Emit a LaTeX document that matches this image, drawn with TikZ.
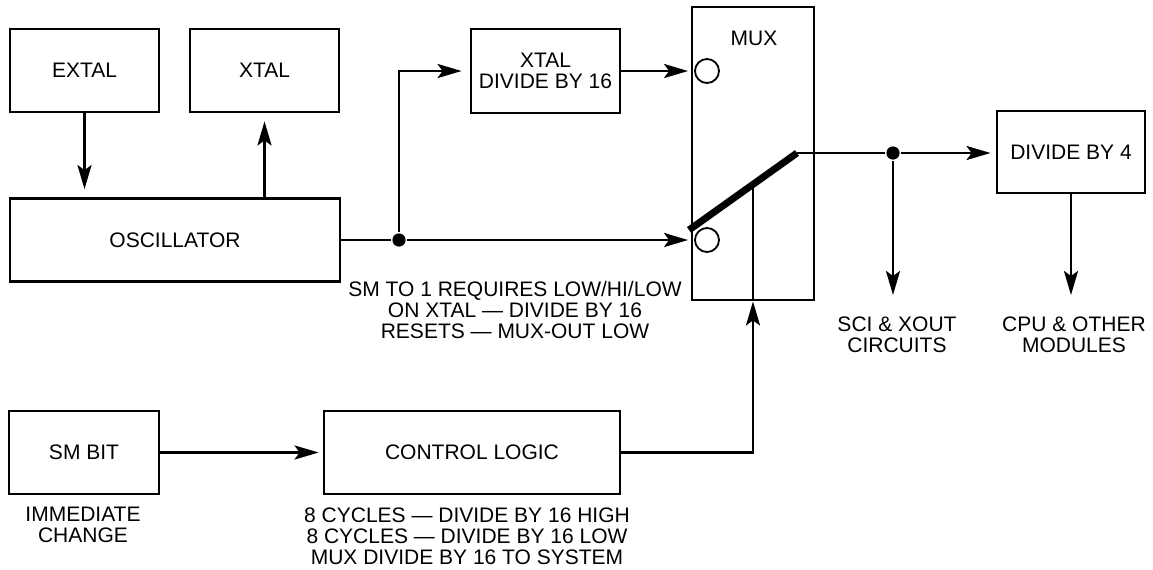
\documentclass[tikz,border=0pt]{standalone}
\usepackage{fontspec}
\setmainfont{Liberation Sans}
\usetikzlibrary{arrows.meta}

\begin{document}
\begin{tikzpicture}[
  x=0.5pt, y=-0.5pt,
  line width=1.4pt,
  font=\fontsize{10.5}{10.4}\selectfont,
  box/.style={draw, minimum width=74.5pt, minimum height=41.5pt, align=center, inner sep=0pt},
  note/.style={align=center, inner sep=0pt},
  arr/.style={-{Stealth[length=12pt, width=7pt, inset=2.5pt]}, shorten >=2.5pt},
  pincircle/.style={draw, circle, minimum size=12pt, inner sep=0pt, line width=0.9pt},
  dot/.style={fill, circle, minimum size=6.6pt, inner sep=0pt},
  swbar/.style={line width=3.5pt, line cap=butt}
]
\useasboundingbox (0,0) rectangle (1153,569);
\node[box] (extal) at (84.5,70.5) {EXTAL};
\node[box] (xtal) at (264.5,70.5) {XTAL};
\node[box, minimum width=165pt] (osc) at (175,240) {OSCILLATOR};
\node[box, minimum height=42pt] (xdiv) at (545.5,71) {XTAL\\DIVIDE BY 16};
\node[box, minimum width=61pt, minimum height=146.5pt] (mux) at (753,153.5) {};
\node[note] (muxlabel) at (754,38) {MUX};
\node[box, minimum width=74pt, minimum height=41pt] (div4) at (1071,152) {DIVIDE BY 4};
\node[box, minimum width=75pt] (smbit) at (84,452.5) {SM BIT};
\node[box, minimum width=148pt] (ctrl) at (472,452.5) {CONTROL LOGIC};
\node[pincircle] (in1) at (707,71) {};
\node[pincircle] (in2) at (707,240) {};
\node[dot] (j1) at (399,240) {};
\node[dot] (j2) at (893,153) {};
\coordinate (swA) at (689,230);
\coordinate (swB) at (797,153);
\coordinate (swC) at (753,186);
\coordinate (sciin) at (893,300);
\coordinate (cpuin) at (1071,300);
\node[note] (resetnote) at (515,310) {SM TO 1 REQUIRES LOW/HI/LOW\\ON XTAL — DIVIDE BY 16\\RESETS — MUX-OUT LOW};
\node[note] (smnote) at (83,525) {IMMEDIATE\\CHANGE};
\node[note] (ctrlnote) at (467,536) {8 CYCLES — DIVIDE BY 16 HIGH\\8 CYCLES — DIVIDE BY 16 LOW\\MUX DIVIDE BY 16 TO SYSTEM};
\node[note] (sci) at (897,335) {SCI \& XOUT\\CIRCUITS};
\node[note] (cpu) at (1074,335) {CPU \& OTHER\\MODULES};
\draw[arr, shorten >=4pt] (extal) -- (extal |- osc.north);
\draw[arr, shorten >=4pt] (xtal.south |- osc.north) -- (xtal);
\draw (osc.east) -- (j1);
\draw[arr, shorten >=3pt] (j1) -- (in2.west);
\draw[arr, shorten >=4pt] (j1) |- (xdiv.west);
\draw[arr, shorten >=3pt] (xdiv) -- (in1.west);
\draw[swbar] (swA) -- (swB);
\draw (swB) -- (j2);
\draw[arr] (j2) -- (j2 -| div4.west);
\draw[arr] (j2) -- (sciin);
\draw[arr] (div4) -- (cpuin);
\draw[arr, shorten >=2pt] (smbit) -- (ctrl);
\draw[arr, shorten >=0pt] (ctrl.east) -| (mux.south);
\draw (mux.south) -- (swC);
\end{tikzpicture}
\end{document}
